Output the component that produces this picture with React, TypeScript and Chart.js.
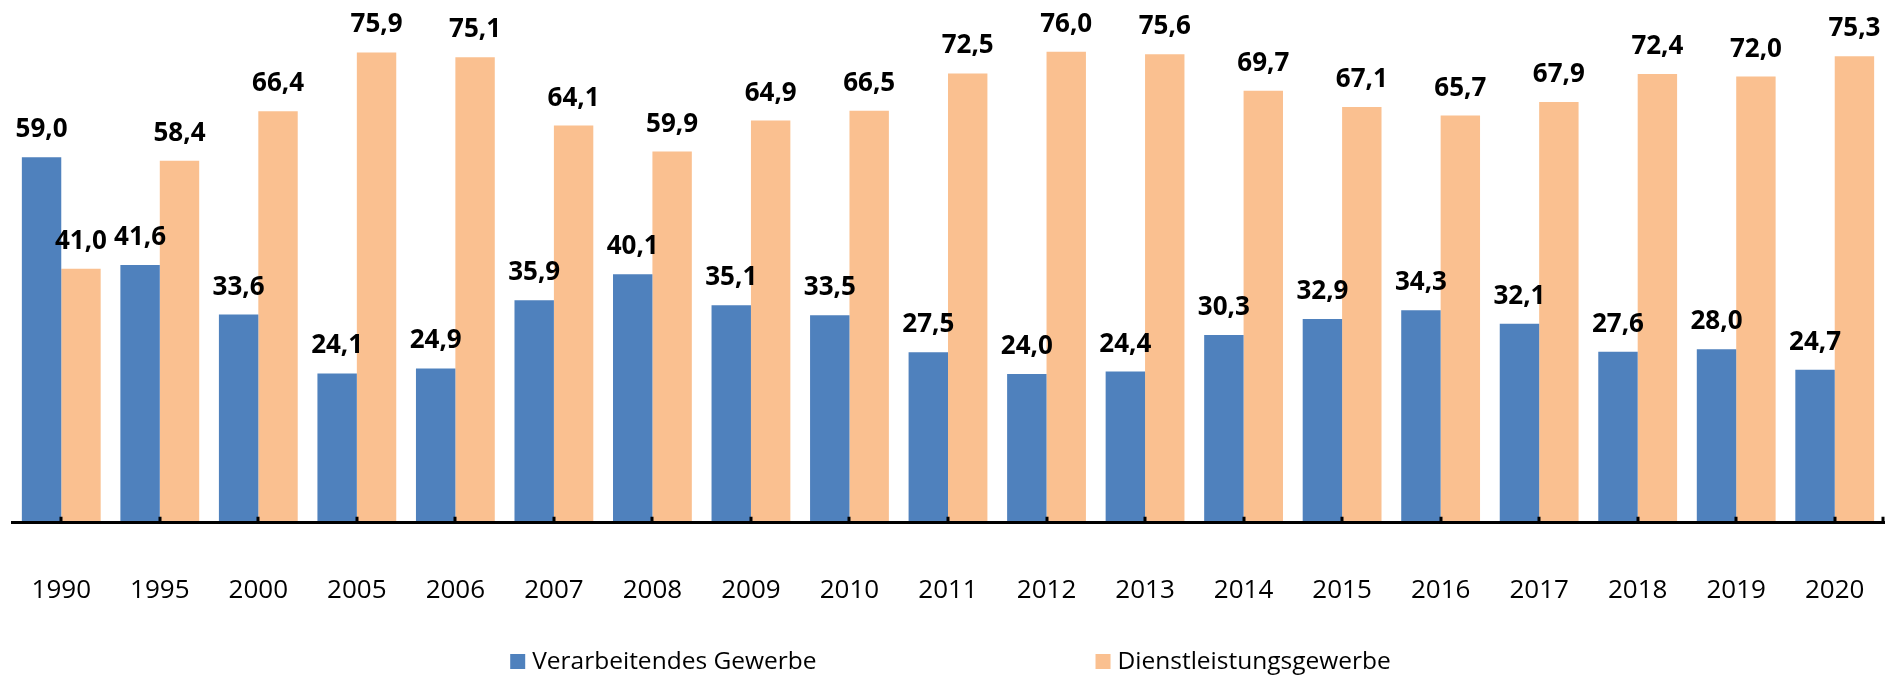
import React, { useEffect, useRef } from "react";
import { Chart, registerables } from "chart.js";

Chart.register(...registerables);

const years = ["1990", "1995", "2000", "2005", "2006", "2007", "2008", "2009", "2010", "2011", "2012", "2013", "2014", "2015", "2016", "2017", "2018", "2019", "2020"];
const verarbeitendes = [59.0, 41.6, 33.6, 24.1, 24.9, 35.9, 40.1, 35.1, 33.5, 27.5, 24.0, 24.4, 30.3, 32.9, 34.3, 32.1, 27.6, 28.0, 24.7];
const dienstleistung = [41.0, 58.4, 66.4, 75.9, 75.1, 64.1, 59.9, 64.9, 66.5, 72.5, 76.0, 75.6, 69.7, 67.1, 65.7, 67.9, 72.4, 72.0, 75.3];
const seriesNames = ["Verarbeitendes Gewerbe", "Dienstleistungsgewerbe"];
const seriesColors = ["#4F81BD", "#FAC090"];

const FONT = "'Open Sans', 'Noto Sans', sans-serif";

const fmt = (v: number) => v.toFixed(1).replace(".", ",");

const valueLabels = {
  id: "valueLabels",
  afterDatasetsDraw(chart: any) {
    const ctx = chart.ctx;
    ctx.save();
    ctx.font = `bold 26px ${FONT}`;
    ctx.fillStyle = "#000";
    ctx.textAlign = "center";
    ctx.textBaseline = "alphabetic";
    chart.data.datasets.forEach((ds: any, di: number) => {
      const meta = chart.getDatasetMeta(di);
      meta.data.forEach((bar: any, i: number) => {
        ctx.fillText(fmt(ds.data[i]), bar.x, bar.y - 20);
      });
    });
    // upward tick marks at category centres
    const xs = chart.scales.x;
    const b = chart.chartArea.bottom;
    ctx.strokeStyle = "#000";
    ctx.lineWidth = 3;
    ctx.beginPath();
    xs.ticks.forEach((_: any, i: number) => {
      const px = Math.round(xs.getPixelForTick(i));
      ctx.moveTo(px, b - 6);
      ctx.lineTo(px, b);
    });
    ctx.moveTo(chart.chartArea.right - 1, b - 6);
    ctx.lineTo(chart.chartArea.right - 1, b);
    ctx.stroke();
    ctx.restore();
  },
};

const customLegend = {
  id: "customLegend",
  afterDraw(chart: any) {
    const ctx = chart.ctx;
    ctx.save();
    ctx.font = `24.5px ${FONT}`;
    ctx.textBaseline = "alphabetic";
    ctx.textAlign = "left";
    const box = 15;
    const gapText = 7;
    const gapItems = 279;
    const items = chart.data.datasets.map((ds: any) => ({
      label: ds.label,
      color: ds.backgroundColor,
      w: box + gapText + ctx.measureText(ds.label).width,
    }));
    const total = items.reduce((s: number, it: any) => s + it.w, 0) + gapItems * (items.length - 1);
    let x = chart.width / 2 - total / 2;
    const baseY = 669;
    items.forEach((it: any) => {
      ctx.fillStyle = it.color;
      ctx.fillRect(x, baseY - 15, box, box);
      ctx.fillStyle = "#000";
      ctx.fillText(it.label, x + box + gapText, baseY);
      x += it.w + gapItems;
    });
    ctx.restore();
  },
};

export default function App() {
  const ref = useRef<HTMLCanvasElement>(null);
  useEffect(() => {
    if (!ref.current) return;
    const chart = new Chart(ref.current, {
      type: "bar",
      data: {
        labels: years,
        datasets: [
          { label: seriesNames[0], data: verarbeitendes, backgroundColor: seriesColors[0], borderWidth: 0 },
          { label: seriesNames[1], data: dienstleistung, backgroundColor: seriesColors[1], borderWidth: 0 },
        ],
      },
      options: {
        animation: false,
        responsive: true,
        maintainAspectRatio: false,
        devicePixelRatio: 1,
        layout: { padding: { top: 27, left: 12, right: 17, bottom: 21 } },
        datasets: { bar: { categoryPercentage: 0.8, barPercentage: 1.0 } },
        plugins: { legend: { display: false }, tooltip: { enabled: false } },
        scales: {
          x: {
            grid: { display: false, drawTicks: false, offset: true },
            border: { display: true, color: "#000", width: 3, z: 1 },
            ticks: { color: "#000", font: { family: FONT, size: 26 }, padding: 52, maxRotation: 0, autoSkip: false },
            afterFit(scale: any) {
              scale.paddingLeft = 0;
              scale.paddingRight = 0;
            },
          },
          y: { display: false, min: 0, max: 80 },
        },
      },
      plugins: [valueLabels, customLegend],
    });
    return () => chart.destroy();
  }, []);
  return (
    <div style={{ position: "fixed", left: 0, top: 0, width: 1901, height: 679, background: "#fff" }}>
      <canvas ref={ref} />
    </div>
  );
}
